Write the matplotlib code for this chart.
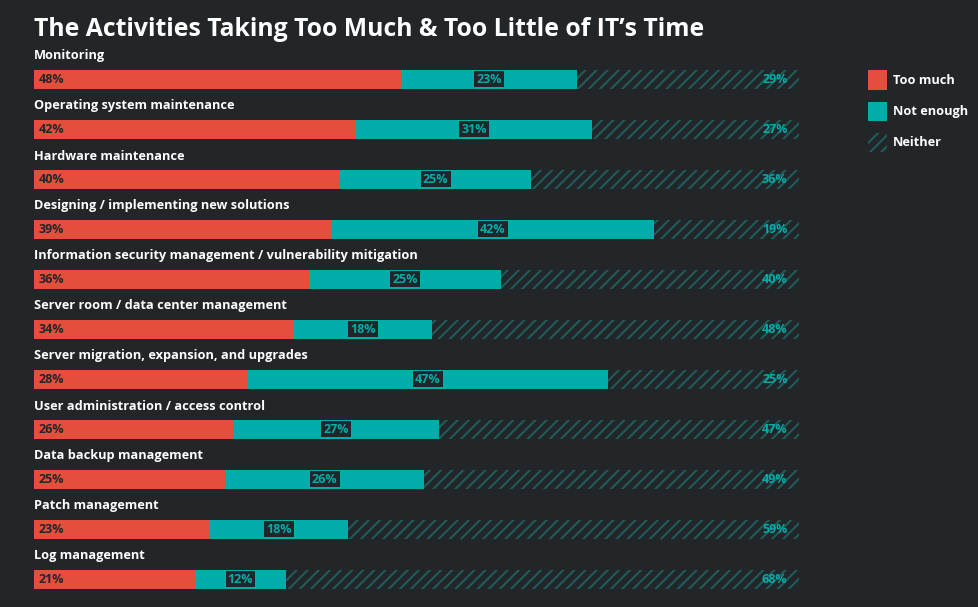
import numpy as np
import matplotlib
matplotlib.use("Agg")
import matplotlib.pyplot as plt
from matplotlib.patches import Rectangle

# data
activities = [
    "Monitoring",
    "Operating system maintenance",
    "Hardware maintenance",
    "Designing / implementing new solutions",
    "Information security management / vulnerability mitigation",
    "Server room / data center management",
    "Server migration, expansion, and upgrades",
    "User administration / access control",
    "Data backup management",
    "Patch management",
    "Log management",
]
too_much = [48, 42, 40, 39, 36, 34, 28, 26, 25, 23, 21]
not_enough = [23, 31, 25, 42, 25, 18, 47, 27, 26, 18, 12]
neither = [29, 27, 36, 19, 40, 48, 25, 47, 49, 59, 68]

BG = "#222629"
RED = "#E64E3C"
TEAL = "#00ADA9"
HATCH = "#1F5C5A"
W, H = 979, 607

plt.rcParams["font.family"] = ["Open Sans", "DejaVu Sans"]
plt.rcParams["hatch.linewidth"] = 1.5

fig = plt.figure(figsize=(W / 100, H / 100), dpi=100, facecolor=BG)
# axes spans 0..100 % horizontally, pixel rows vertically
ax = fig.add_axes([34 / W, 0, 765 / W, 1])
ax.set_facecolor(BG)
ax.set_xlim(0, 100)
ax.set_ylim(H, 0)
ax.axis("off")

ypos = 79 + 50 * np.arange(len(activities))
bh = 19

ax.barh(ypos, too_much, height=bh, color=RED, linewidth=0)
ax.barh(ypos, not_enough, left=too_much, height=bh, color=TEAL, linewidth=0)
left2 = np.array(too_much) + np.array(not_enough)
ax.barh(ypos, neither, left=left2, height=bh, color=BG, edgecolor=HATCH,
        hatch="///", linewidth=0)

for i, y in enumerate(ypos):
    ax.text(0, y - 23, activities[i], color="white", fontsize=9.2,
            fontweight="bold", va="center", ha="left")
    ax.text(0.6, y + 0.5, f"{too_much[i]}%", color=BG, fontsize=9,
            fontweight="bold", va="center", ha="left")
    xc = too_much[i] + not_enough[i] / 2
    # dark label chip, ~30px wide and 16px tall
    ax.add_patch(Rectangle((xc - 1.95, y - 8), 3.9, 16, facecolor=BG,
                           edgecolor="none", zorder=3))
    ax.text(xc, y + 0.5, f"{not_enough[i]}%", color=TEAL, fontsize=9,
            fontweight="bold", va="center", ha="center", zorder=4)
    ax.text(98.5, y + 0.5, f"{neither[i]}%", color=TEAL, fontsize=9,
            fontweight="bold", va="center", ha="right")

fig.text(34 / W, 1 - 30 / H, "The Activities Taking Too Much & Too Little of IT\u2019s Time",
         color="white", fontsize=17.8, fontweight="bold", va="center", ha="left")

# legend
leg = [("Too much", RED, None), ("Not enough", TEAL, None), ("Neither", BG, "///")]
for k, (lab, col, hatch) in enumerate(leg):
    ly = 80 + 31 * k
    fig.patches.append(Rectangle((868 / W, 1 - (ly + 9.5) / H), 19 / W, 19 / H,
                                 transform=fig.transFigure, facecolor=col,
                                 edgecolor=HATCH if hatch else "none",
                                 hatch=hatch, linewidth=0))
    fig.text(893 / W, 1 - ly / H, lab, color="white", fontsize=9.2,
             fontweight="bold", va="center", ha="left")

fig.savefig("out.png", dpi=100, facecolor=BG)
